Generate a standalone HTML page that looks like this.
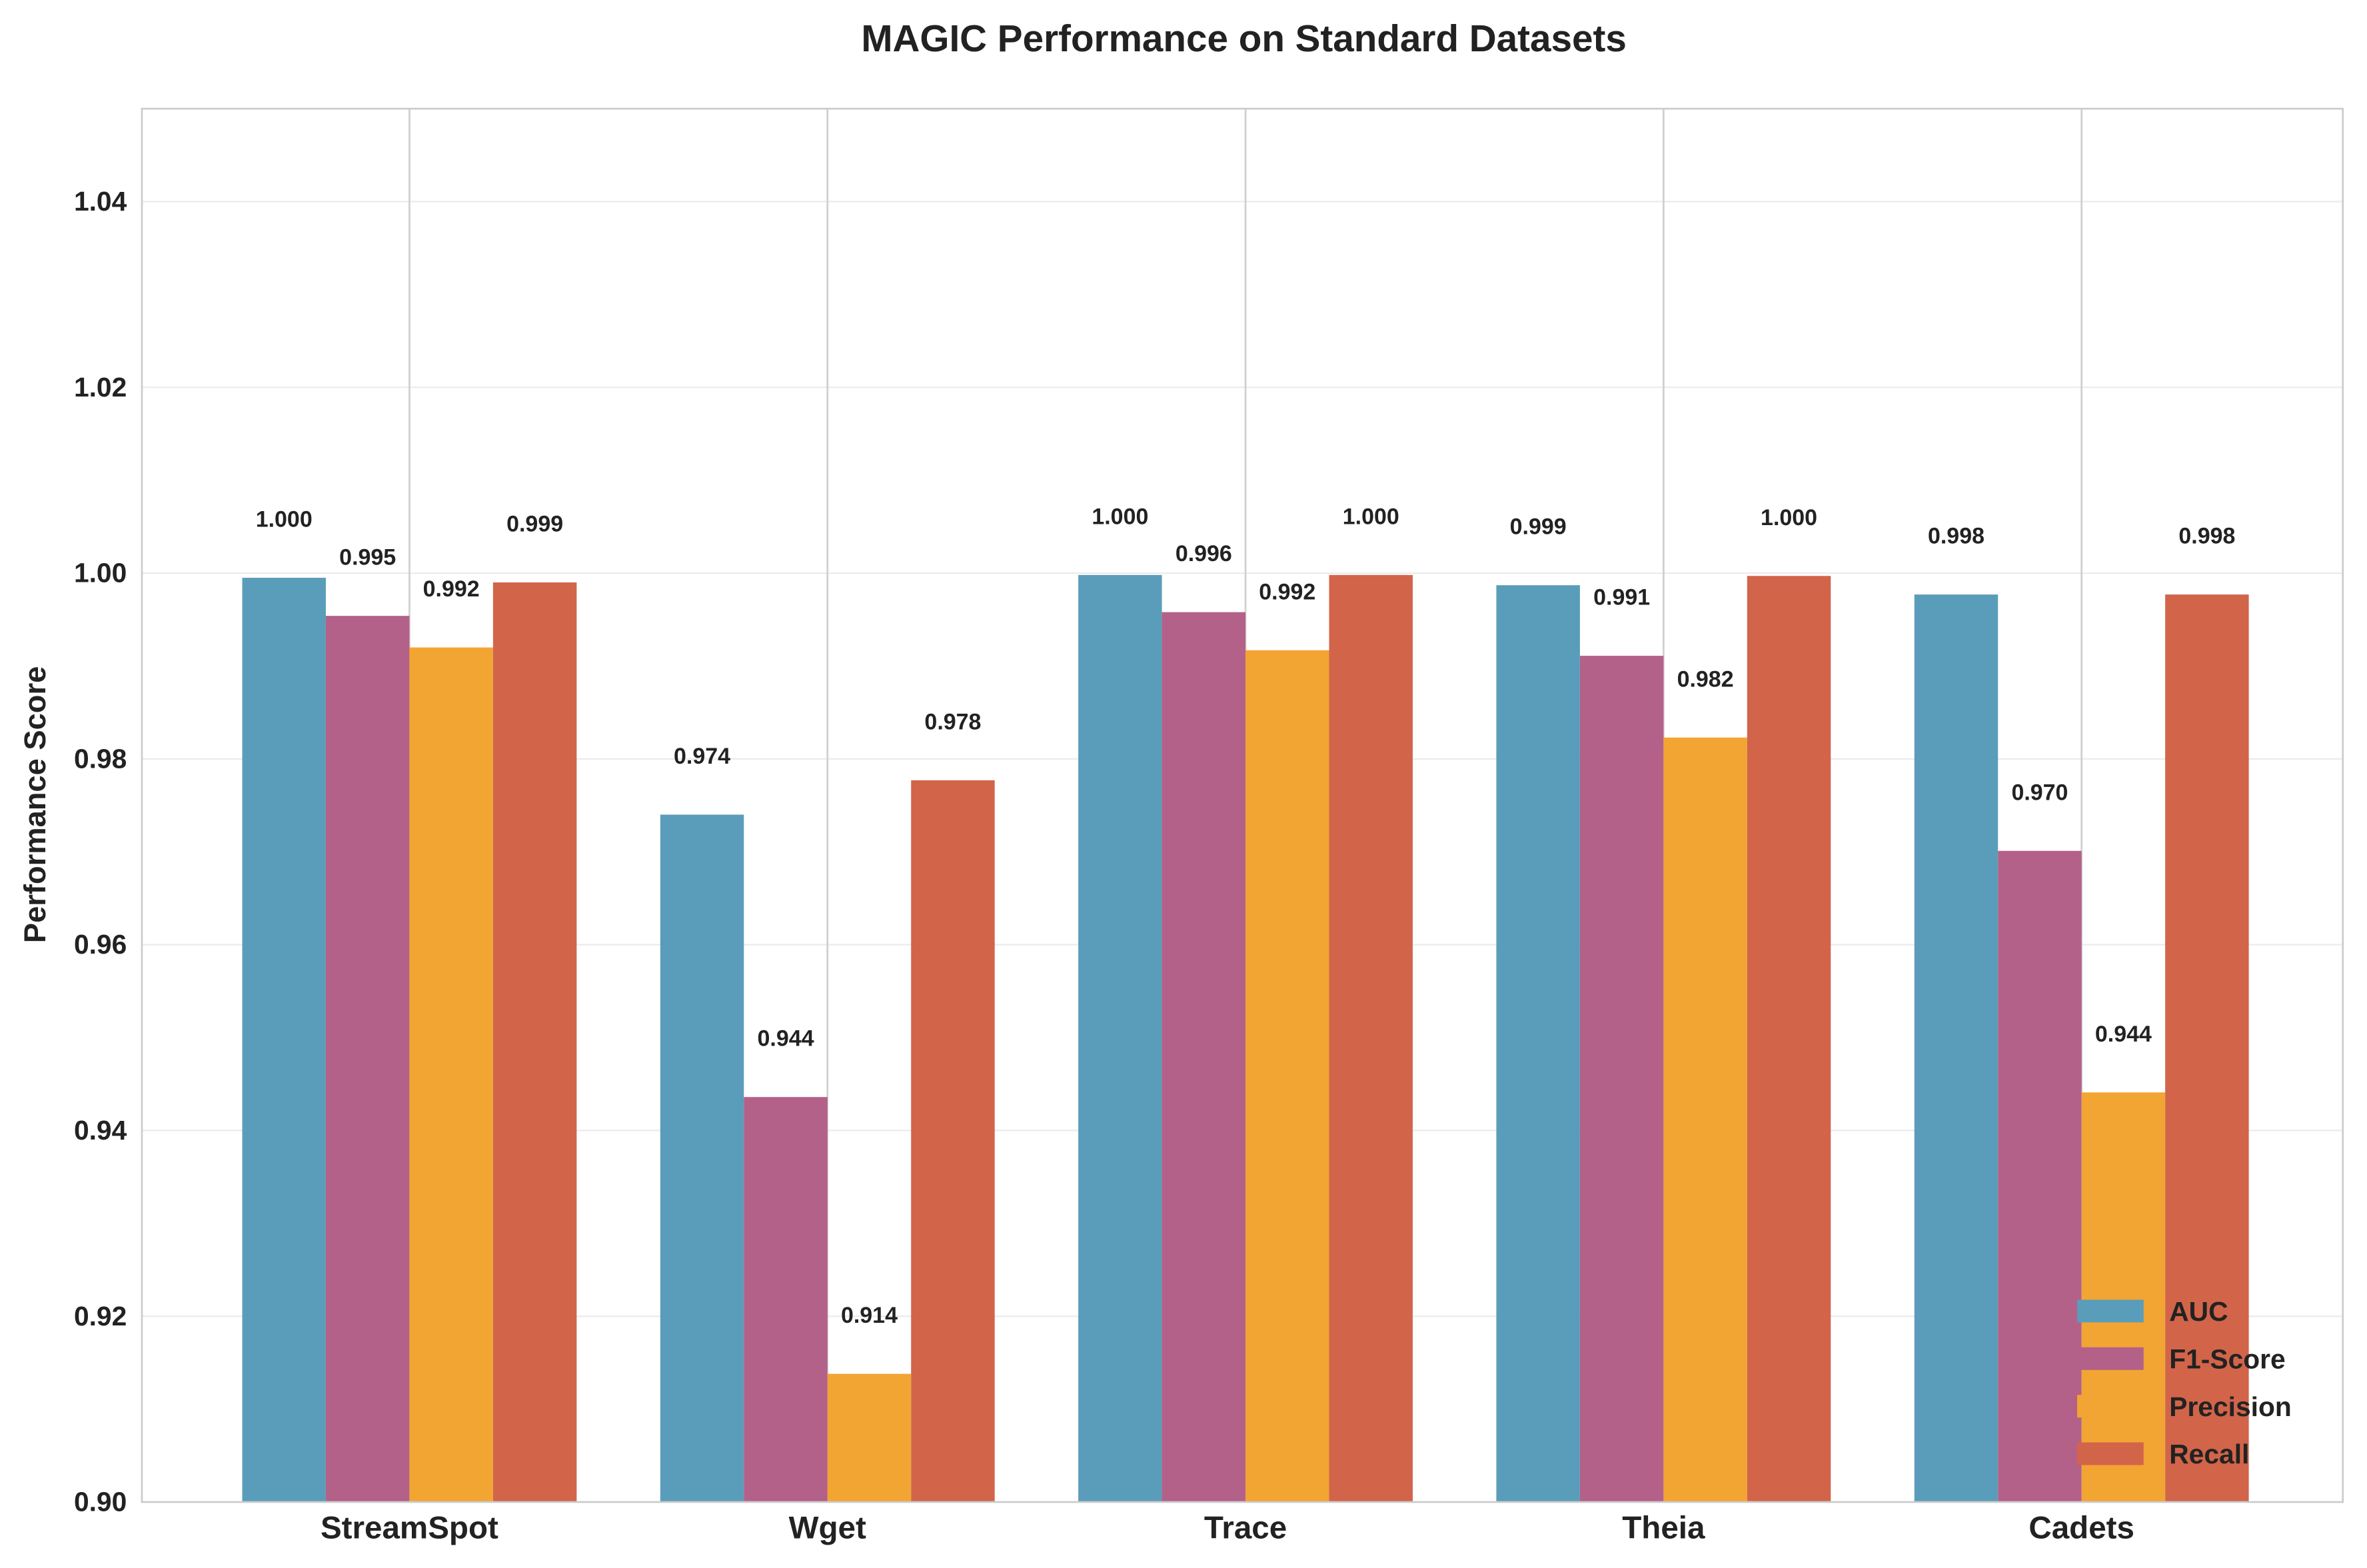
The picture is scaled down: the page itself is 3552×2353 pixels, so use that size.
<!DOCTYPE html>
<html><head><meta charset="utf-8"><style>
html,body{margin:0;padding:0;background:#fff;}
svg{display:block;font-family:"Liberation Sans",Arial,sans-serif;}
</style></head><body>
<svg id="chart" width="3552" height="2353" viewBox="0 0 1568 1038.7" xmlns="http://www.w3.org/2000/svg">
<rect width="1568" height="1039" fill="#fff"/>
<text x="824" y="34" text-anchor="middle" font-size="25" font-weight="bold" fill="#222">MAGIC Performance on Standard Datasets</text>
<g id="grid"></g><g id="bars"></g><g id="labels"></g>
<rect x="94" y="72" width="1458" height="923" fill="none" stroke="#ccc" stroke-width="1.2"/>
<text transform="translate(30,533) rotate(-90)" text-anchor="middle" font-size="20" font-weight="bold" fill="#222">Performance Score</text>
<g id="legend"></g>
</svg>
<script>
const categories=["StreamSpot","Wget","Trace","Theia","Cadets"];
const seriesNames=["AUC","F1-Score","Precision","Recall"];
const auc=[0.9995,0.9740,0.9998,0.9987,0.9977];
const f1=[0.9954,0.9436,0.9958,0.9911,0.9701];
const precision=[0.9920,0.9138,0.9917,0.9823,0.9441];
const recall=[0.9990,0.9777,0.9998,0.9997,0.9977];
const yTicks=[0.90,0.92,0.94,0.96,0.98,1.00,1.02,1.04];
const colors=["#5a9dba","#b36189","#f2a533","#d2644a"];
const NS="http://www.w3.org/2000/svg";
const L=94,R=1552,T=72,B=995,yMin=0.9,yMax=1.05;
const y=v=>B-(v-yMin)/(yMax-yMin)*(B-T);
// matplotlib x-range: -0.64 .. 4.625 style margins
const xMin=-0.64,xMax=4.625;
const xc=i=>L+(i-xMin)/(xMax-xMin)*(R-L);
const bw=(xc(1)-xc(0))*0.2;
function mk(tag,attrs,parent){const e=document.createElementNS(NS,tag);for(const k in attrs)e.setAttribute(k,attrs[k]);document.getElementById(parent).appendChild(e);return e;}
yTicks.forEach(t=>{
 const g=mk("line",{x1:L,x2:R,y1:y(t),y2:y(t),stroke:"#ebebeb","stroke-width":1},"grid");
 
 
 const tx=mk("text",{x:L-10,y:y(t)+6,"text-anchor":"end","font-size":18,"font-weight":"bold",fill:"#222"},"grid");
 tx.textContent=t.toFixed(2);
 
 
});
categories.forEach((c,i)=>{
 const g=mk("line",{x1:xc(i),x2:xc(i),y1:T,y2:B,stroke:"#cfcfcf","stroke-width":1.2},"grid");
 
 
 const tx=mk("text",{x:xc(i),y:B+24,"text-anchor":"middle","font-size":21,"font-weight":"bold",fill:"#222"},"grid");
 tx.textContent=c;
 
 
});
const series=[auc,f1,precision,recall];
series.forEach((vals,s)=>{
 vals.forEach((v,i)=>{
  const x0=xc(i)+(s-2)*bw;
  const r=mk("rect",{x:x0,y:y(v),width:bw,height:B-y(v),fill:colors[s]},"bars");
  
  
  const t=mk("text",{x:x0+bw/2,y:y(v+0.005)-3,"text-anchor":"middle","font-size":15,"font-weight":"bold",fill:"#222"},"labels");
  t.textContent=v.toFixed(3);
  
  
 });
});
seriesNames.forEach((n,s)=>{
 const yy=868+s*31.5;
 const p=mk("rect",{x:1376,y:yy-7,width:44,height:15,fill:colors[s]},"legend");
 
 
 const t=mk("text",{x:1437,y:yy+7,"font-size":18,"font-weight":"bold",fill:"#222"},"legend");
 t.textContent=n;
 
 
});
</script>
</body></html>
